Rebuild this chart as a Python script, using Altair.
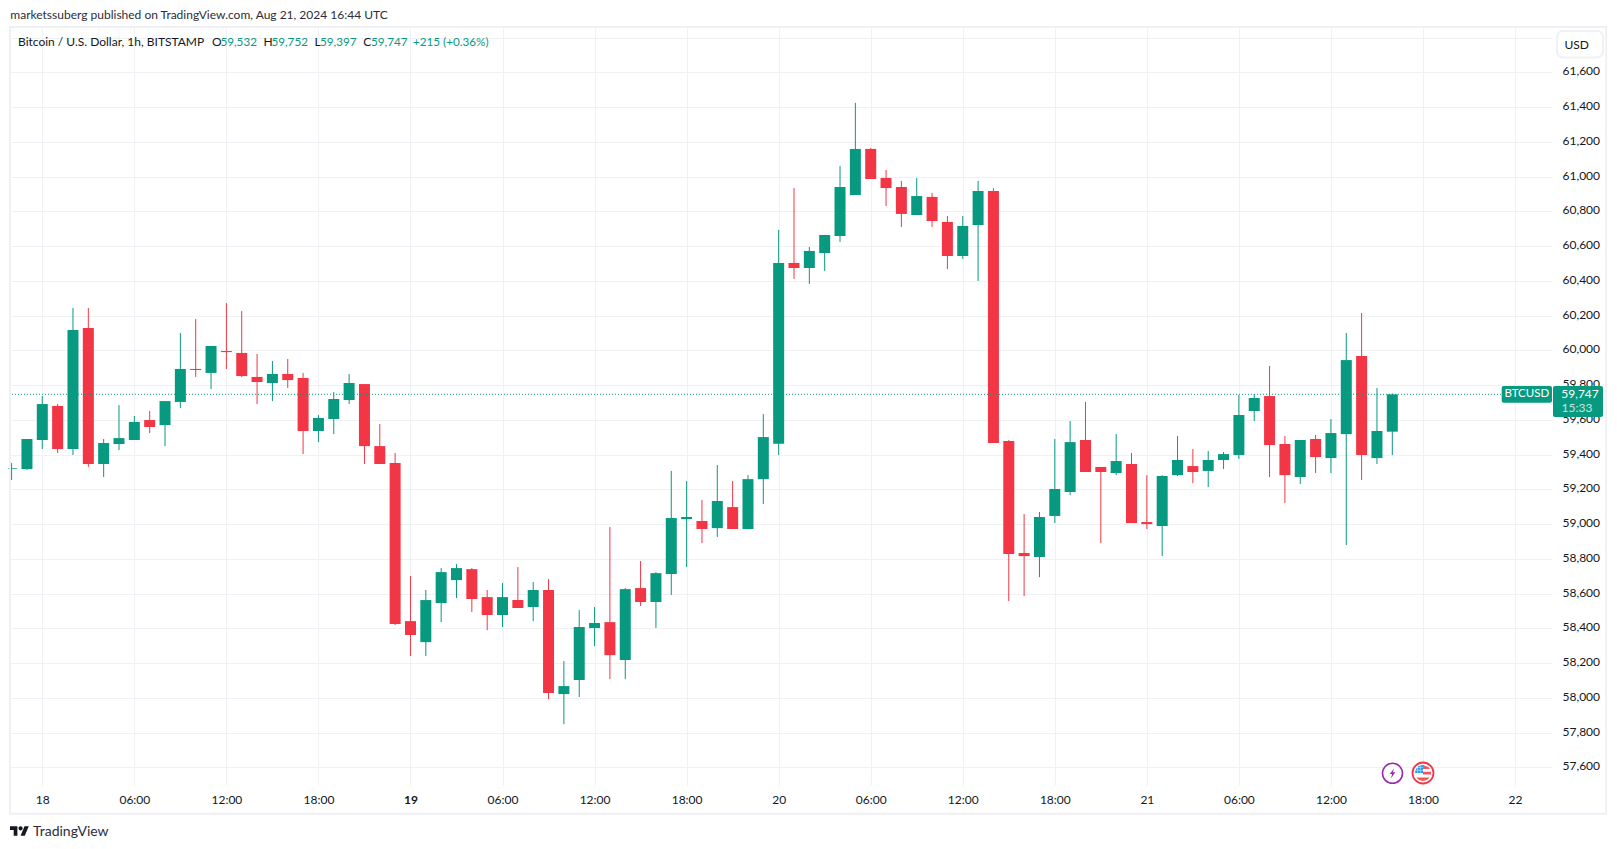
import altair as alt
import pandas as pd

opens = [59319,59317,59484,59680,59432,60129,59346,59461,59484,59599,59570,59703,59893,59870,59996,59985,59847,59812,59864,59841,59536,59605,59714,59806,59449,59352,58442,58321,58546,58678,58741,58580,58477,58563,58523,58621,58022,58103,58402,58436,58218,58632,58552,58713,59029,59018,58977,59098,58972,59259,59463,60503,60474,60560,60658,60894,61159,60992,60940,60779,60883,60739,60543,60721,60917,59478,58834,58811,59047,59185,59484,59329,59294,59346,59012,58989,59282,59334,59306,59369,59398,59651,59737,59461,59271,59490,59380,59518,59967,59380,59532]
highs = [59352,59490,59737,59691,60244,60244,59490,59685,59622,59651,59708,60100,60180,60025,60272,60226,59979,59939,59950,59870,59628,59760,59864,59806,59576,59409,58701,58621,58747,58770,58747,58621,58661,58753,58667,58684,58212,58505,58523,58983,58632,58788,58724,59306,59248,59139,59340,59248,59282,59633,60693,60934,60595,60664,61061,61424,61165,61038,60975,60992,60906,60773,60773,60975,60934,59484,59058,59070,59490,59593,59703,59329,59518,59409,59282,59282,59507,59432,59421,59415,59743,59749,59910,59507,59484,59513,59605,60100,60215,59783,59752]
lows = [59254,59311,59432,59409,59398,59329,59271,59426,59484,59524,59449,59668,59847,59777,59893,59847,59691,59708,59783,59403,59472,59518,59691,59346,59346,58419,58241,58241,58436,58575,58494,58390,58408,58517,58442,57993,57849,58005,58298,58108,58108,58529,58402,58592,58753,58891,58926,58972,58972,59116,59397,60411,60382,60457,60624,60894,60986,60831,60710,60779,60710,60468,60526,60399,59467,58557,58586,58695,59006,59167,59300,58891,59282,59006,58972,58816,59277,59236,59213,59317,59375,59593,59271,59121,59231,59294,59294,58880,59254,59346,59397]
closes = [59323,59490,59691,59432,60117,59346,59467,59495,59588,59559,59708,59893,59887,60025,59990,59852,59818,59864,59829,59536,59611,59720,59812,59449,59346,58425,58362,58563,58724,58747,58569,58477,58580,58517,58621,58028,58068,58408,58431,58246,58626,58552,58718,59035,59041,58972,59133,58972,59259,59501,60503,60474,60572,60664,60940,61159,60986,60934,60785,60888,60744,60543,60716,60917,59467,58828,58816,59041,59202,59472,59300,59300,59363,59006,59000,59277,59369,59300,59369,59403,59628,59726,59455,59282,59484,59386,59524,59944,59398,59536,59747]
times = pd.date_range("2024-08-17 22:00", periods=len(opens), freq="h").strftime("%Y-%m-%dT%H:%M:%SZ").tolist()

price_ticks = [57600 + 200 * i for i in range(22)]
time_ticks = pd.date_range("2024-08-18 00:00", "2024-08-22 00:00", freq="6h").strftime("%Y-%m-%dT%H:%M:%SZ").tolist()
last_price = 59747

UP = "#089981"
DOWN = "#F23645"
GRID = "#f0f1f4"
INK = "#131722"
FONT = "Lato"

df = pd.DataFrame({"t": times, "o": opens, "h": highs, "l": lows, "c": closes})
df["dir"] = ["up" if c >= o else "down" for o, c in zip(opens, closes)]
one = pd.DataFrame({"a": [0]})

xscale = alt.Scale(type="utc", domain=["2024-08-17T21:53:42Z", "2024-08-22T02:24:36Z"], nice=False, padding=0)
yscale = alt.Scale(domain=[57493, 61855], nice=False, zero=False)
xaxis = alt.Axis(
    values=time_ticks, title=None, ticks=False, domain=False, grid=True, gridColor=GRID, gridWidth=1,
    labelExpr="utchours(datum.value)==0 ? utcFormat(datum.value,'%-d') : utcFormat(datum.value,'%H:%M')",
    labelFontWeight={"condition": {"test": "utcdate(datum.value)==19 && utchours(datum.value)==0", "value": 700}, "value": 400},
    labelFont=FONT, labelFontSize=12, labelColor=INK, labelPadding=8, labelOverlap=False, labelFlush=False,
)
yaxis = alt.Axis(
    values=price_ticks, title=None, ticks=False, domain=False, grid=True, gridColor=GRID, gridWidth=1,
    orient="right", labelExpr="datum.value > 61700 ? '' : format(datum.value, ',.0f')",
    labelFont=FONT, labelFontSize=12, labelColor=INK, labelPadding=10, labelOffset=-1.5,
    labelOverlap=False,
)
X = alt.X("t:T", scale=xscale, axis=xaxis)
color = alt.Color("dir:N", scale=alt.Scale(domain=["up", "down"], range=[UP, DOWN]), legend=None)

wicks = alt.Chart(df).mark_rule(strokeWidth=1).encode(
    x=X, y=alt.Y("l:Q", scale=yscale, axis=yaxis), y2="h:Q", color=color)
bodies = alt.Chart(df).mark_bar(size=11).encode(
    x=X, y=alt.Y("o:Q", scale=yscale, axis=yaxis), y2="c:Q", color=color)
last_line = alt.Chart(one).mark_rule(color=UP, strokeWidth=1, strokeDash=[1, 2]).encode(
    y=alt.YDatum(last_price, type="quantitative", scale=yscale, axis=yaxis))


def box(x, x2, y, y2, **kw):
    return alt.Chart(one).mark_rect(**kw).encode(
        x=alt.value(x), x2=alt.value(x2), y=alt.value(y), y2=alt.value(y2))


def label(s, x, y, size=12, col=INK, align="left", **kw):
    return alt.Chart(one).mark_text(text=s, font=FONT, fontSize=size, color=col, align=align,
                                    baseline="middle", **kw).encode(x=alt.value(x), y=alt.value(y))


def sym(shape, x, y, size, **kw):
    return alt.Chart(one).mark_point(shape=shape, size=size, **kw).encode(x=alt.value(x), y=alt.value(y))


LOGO = ("M-.222,.5L-.611,.5L-.611,-.111L-1,-.111L-1,-.5L-.222,-.5Z"
        "M.556,.5L.111,.5L.528,-.5L.972,-.5Z"
        "M-.111,-.278a.222,.222 0 1,0 .444,0a.222,.222 0 1,0 -.444,0Z")
BOLT = "M.22,-.62L-.34,.1L-.04,.1L-.2,.62L.34,-.12L.04,-.12Z"
CANTON = "M-1,0A1,1 0 0,1 0,-1L0,0Z"
STRIPES = ("M0,-1L.7,-.72L.86,-.5L0,-.5Z"
           "M0,-.15L1,-.15L1,.2L0,.2Z"
           "M-.84,.55L.84,.55L.5,.87L0,1L-.5,.87Z")
CANTON_GRID = "M-.68,-.75L-.68,0M-.34,-.95L-.34,0M-.95,-.34L0,-.34M-.75,-.68L0,-.68"

overlays = [
    box(0, 1596.3, -1, 785.7, fillOpacity=0, stroke="#eff0f6", strokeWidth=2),
    box(1547, 1593, 3, 29.5, fill="white", stroke=GRID, strokeWidth=2, cornerRadius=6),
    label("USD", 1566.7, 16.7, align="center"),
    box(1491.7, 1542, 358, 374.7, fill=UP, cornerRadius=2),
    label("BTCUSD", 1516.8, 366.3, size=11.5, col="white", align="center"),
    box(1543, 1593, 358, 389, fill=UP, cornerRadius=2),
    label("59,747", 1570, 366.3, col="white", align="center"),
    label("15:33", 1567, 379.7, col="white", align="center", opacity=0.75),
    label("marketssuberg published on TradingView.com, Aug 21, 2024 16:44 UTC", 0.3, -13.5, col="#2a2e39"),
    label("Bitcoin / U.S. Dollar, 1h, BITSTAMP", 8, 13.7),
    label("O", 202, 13.7), label("59,532", 210.4, 13.7, size=11.7, col=UP),
    label("H", 253.4, 13.7), label("59,752", 261.4, 13.7, size=11.7, col=UP),
    label("L", 304.4, 13.7), label("59,397", 310, 13.7, size=11.7, col=UP),
    label("C", 353.3, 13.7), label("59,747", 361, 13.7, size=11.7, col=UP),
    label("+215 (+0.36%)", 403, 13.7, size=11.7, col=UP),
    sym("circle", 1382.5, 745.3, 400, filled=True, fill="white", stroke="#9C27B0", strokeWidth=1.6, opacity=1),
    sym(BOLT, 1382.5, 745.3, 270, filled=True, fill="#9C27B0", opacity=1),
    sym("circle", 1413, 745, 440, filled=True, fill="white", stroke=DOWN, strokeWidth=1.8, opacity=1),
    sym(STRIPES, 1413, 745, 256, filled=True, fill=DOWN, opacity=0.85),
    sym(CANTON, 1413, 745, 256, filled=True, fill="#2196F3", opacity=1),
    sym(CANTON_GRID, 1413, 745, 256, filled=False, stroke="white", strokeWidth=0.7, opacity=0.7),
    sym(LOGO, 9.5, 803, 361, filled=True, fill="#131722", opacity=1),
    label("TradingView", 23, 803.5, size=14, col="#2a2e39"),
]

chart = alt.layer(wicks, bodies, last_line, *overlays).properties(
    width=1542, height=758,
    padding={"left": 2, "top": 20, "right": 55, "bottom": 52},
    autosize=alt.AutoSizeParams(type="none"),
    background="white",
).configure_view(stroke=None)

chart.save("out.html", embed_options={"renderer": "svg", "actions": False})
